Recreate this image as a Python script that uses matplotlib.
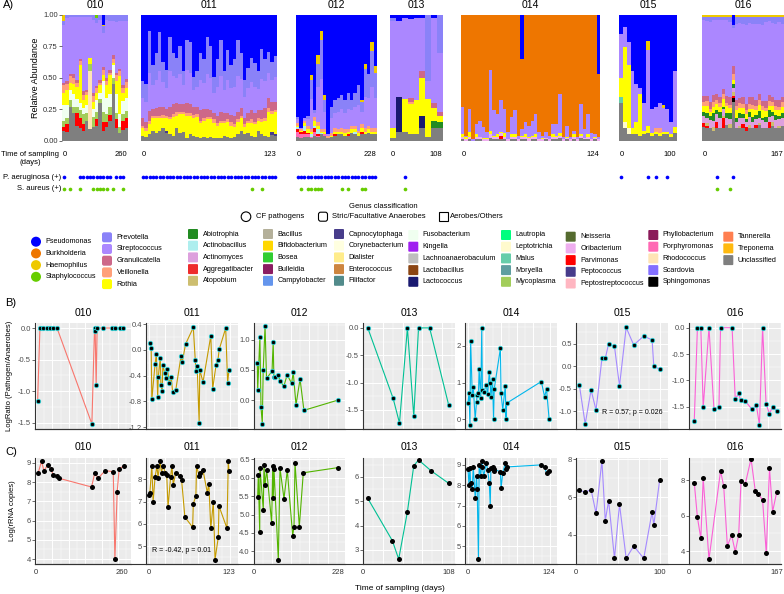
import numpy as np
import matplotlib
matplotlib.use('Agg')
import matplotlib.pyplot as plt
from matplotlib.patches import Circle, FancyBboxPatch, Rectangle
from matplotlib.ticker import MultipleLocator, AutoMinorLocator, FormatStrFormatter

plt.rcParams['font.family'] = ['Liberation Sans', 'DejaVu Sans']

W, H = 784, 594

patients = ['010', '011', '012', '013', '014', '015', '016']
end_day = [260, 123, 228, 108, 124, 100, 167]
line_colors = ['#F8766D', '#C49A00', '#53B400', '#00C094', '#00B6EB', '#A58AFF', '#FB61D7']

# genus classification and colours (legend order)
pathogens = ['Pseudomonas', 'Burkholderia', 'Haemophilus', 'Staphylococcus']
pathogen_colors = ['#0000FF', '#EE7600', '#EEC900', '#66CD00']
anaerobes = ['Prevotella', 'Streptococcus', 'Granulicatella', 'Veillonella', 'Rothia']
anaerobe_colors = ['#8A82F8', '#AB87FF', '#CD6889', '#FFA07A', '#FFFF00']
others = ['Abiotrophia', 'Actinobacillus', 'Actinomyces', 'Aggregatibacter', 'Atopobium',
          'Bacillus', 'Bifidobacterium', 'Bosea', 'Bulleidia', 'Campylobacter',
          'Capnocytophaga', 'Corynebacterium', 'Dialister', 'Enterococcus', 'Filifactor',
          'Fusobacterium', 'Kingella', 'Lachnoanaerobaculum', 'Lactobacillus', 'Lactococcus',
          'Lautropia', 'Leptotrichia', 'Malus', 'Moryella', 'Mycoplasma',
          'Neisseria', 'Oribacterium', 'Parvimonas', 'Peptococcus', 'Peptostreptococcus',
          'Phyllobacterium', 'Porphyromonas', 'Rhodococcus', 'Scardovia', 'Sphingomonas',
          'Tannerella', 'Treponema', 'Unclassified']
other_colors = ['#228B22', '#AEEEEE', '#DDA0DD', '#EE2C2C', '#CDBE70',
                '#B4B09A', '#FFD700', '#32CD32', '#8B1C62', '#6495ED',
                '#483D8B', '#FFFFE0', '#FFEC8B', '#CD853F', '#528B8B',
                '#F0FFF0', '#A020F0', '#BEBEBE', '#8B4513', '#191970',
                '#00FF7F', '#FFFACD', '#66CDAA', '#5F9EA0', '#A2CD5A',
                '#556B2F', '#EEAEEE', '#FF0000', '#473C8B', '#FFB6C1',
                '#8B1A5A', '#FF69B4', '#FFE4B5', '#836FFF', '#000000',
                '#FF7F50', '#FFB90F', '#7F7F7F']

# A) relative abundance per sample
abund_010 = {
    'Unclassified': [0.08, 0.07, 0.27, 0.22, 0.12, 0.1, 0.08, 0.15, 0.1, 0.1, 0.12, 0.3, 0.08, 0.1, 0.15, 0.45, 0.1, 0.06, 0.08, 0.1],
    'Rhodococcus': [0, 0, 0, 0, 0, 0, 0, 0, 0.5, 0, 0, 0, 0, 0, 0, 0, 0, 0, 0, 0],
    'Parvimonas': [0.03, 0.06, 0, 0, 0.1, 0.08, 0.05, 0, 0, 0, 0.05, 0, 0.07, 0.04, 0.05, 0, 0.07, 0, 0.07, 0.08],
    'Mycoplasma': [0.05, 0.05, 0.05, 0.05, 0.05, 0.06, 0.08, 0.06, 0.06, 0.08, 0.06, 0.03, 0.08, 0.06, 0.06, 0.05, 0.05, 0.05, 0.06, 0.05],
    'Fusobacterium': [0.12, 0.1, 0.08, 0.1, 0.06, 0.06, 0.05, 0.06, 0, 0.06, 0.1, 0.05, 0.25, 0.12, 0.1, 0.1, 0.15, 0.1, 0.1, 0.1],
    'Rothia': [0.1, 0.12, 0.06, 0.08, 0.1, 0.3, 0.06, 0.08, 0.05, 0.05, 0.05, 0.06, 0.05, 0.1, 0.15, 0.02, 0.1, 0.3, 0.06, 0.08],
    'Veillonella': [0.06, 0.05, 0.05, 0.05, 0.03, 0.03, 0.04, 0.02, 0, 0.05, 0.04, 0.02, 0.04, 0.03, 0.02, 0.03, 0.05, 0.04, 0.04, 0.05],
    'Granulicatella': [0.02, 0.02, 0.02, 0.03, 0.02, 0.02, 0.03, 0.02, 0, 0.02, 0.02, 0.02, 0.02, 0.02, 0.02, 0.03, 0.02, 0.02, 0.02, 0.02],
    'Streptococcus': [0.46, 0.5, 0.45, 0.45, 0.5, 0.33, 0.58, 0.55, 0.35, 0.55, 0.5, 0.48, 0.27, 0.44, 0.38, 0.27, 0.4, 0.38, 0.5, 0.45],
    'Prevotella': [0.03, 0.03, 0.02, 0.02, 0.02, 0.02, 0.02, 0.02, 0.02, 0.04, 0.04, 0.04, 0.06, 0.04, 0.05, 0.05, 0.06, 0.05, 0.05, 0.05],
    'Staphylococcus': [0, 0, 0, 0, 0, 0, 0, 0, 0, 0, 0.03, 0, 0, 0, 0, 0, 0, 0, 0, 0],
    'Haemophilus': [0.05, 0, 0, 0, 0, 0, 0, 0, 0, 0, 0, 0, 0.01, 0, 0, 0, 0, 0, 0, 0],
    'Pseudomonas': [0, 0, 0, 0, 0, 0, 0, 0, 0, 0, 0, 0, 0.08, 0, 0, 0, 0, 0, 0, 0],
}
abund_011 = {
    'Unclassified': [0.04, 0.03, 0.05, 0.08, 0.06, 0.08, 0.1, 0.06, 0.05, 0.04, 0.1, 0.06, 0.07, 0.02, 0.05, 0.04, 0.03, 0.02, 0.03, 0.02,
                     0.03, 0.02, 0.02, 0.02, 0.04, 0.03, 0.02, 0.03, 0.05, 0.08, 0.05, 0.06, 0.04, 0.03, 0.08, 0.05, 0.04, 0.03, 0.05, 0.04],
    'Capnocytophaga': [0, 0, 0, 0, 0, 0, 0, 0.02, 0, 0, 0, 0, 0, 0, 0, 0, 0, 0, 0, 0,
                       0, 0, 0, 0, 0, 0, 0, 0, 0, 0, 0, 0, 0, 0, 0, 0, 0, 0, 0.02, 0.01],
    'Rothia': [0.06, 0.05, 0.08, 0.1, 0.12, 0.1, 0.08, 0.1, 0.12, 0.15, 0.1, 0.15, 0.14, 0.18, 0.15, 0.14, 0.16, 0.12, 0.13, 0.15,
               0.14, 0.12, 0.1, 0.12, 0.1, 0.12, 0.1, 0.08, 0.1, 0.1, 0.06, 0.08, 0.1, 0.1, 0.08, 0.1, 0.12, 0.2, 0.15, 0.18],
    'Veillonella': [0.02, 0.02, 0.03, 0.02, 0.02, 0.02, 0.03, 0.02, 0.02, 0.02, 0.03, 0.02, 0.02, 0.02, 0.02, 0.03, 0.02, 0.02, 0.02, 0.02,
                    0.02, 0.03, 0.02, 0.02, 0.02, 0.02, 0.03, 0.02, 0.02, 0.02, 0.02, 0.02, 0.03, 0.02, 0.02, 0.02, 0.02, 0.03, 0.02, 0.02],
    'Granulicatella': [0.06, 0.05, 0.08, 0.05, 0.06, 0.07, 0.06, 0.06, 0.08, 0.08, 0.07, 0.06, 0.06, 0.08, 0.07, 0.06, 0.06, 0.08, 0.07, 0.06,
                       0.05, 0.05, 0.06, 0.07, 0.06, 0.05, 0.06, 0.07, 0.06, 0.06, 0.05, 0.06, 0.08, 0.07, 0.06, 0.07, 0.08, 0.08, 0.07, 0.06],
    'Streptococcus': [0.16, 0.16, 0.3, 0.19, 0.22, 0.28, 0.2, 0.17, 0.28, 0.22, 0.2, 0.24, 0.15, 0.26, 0.25, 0.14, 0.16, 0.24, 0.21, 0.28,
                      0.26, 0.16, 0.23, 0.28, 0.18, 0.26, 0.21, 0.23, 0.28, 0.23, 0.17, 0.2, 0.22, 0.21, 0.17, 0.25, 0.21, 0.2, 0.18, 0.2],
    'Prevotella': [0.13, 0.14, 0.34, 0.16, 0.22, 0.31, 0.16, 0.14, 0.27, 0.19, 0.16, 0.22, 0.11, 0.24, 0.24, 0.1, 0.12, 0.22, 0.19, 0.29,
                   0.25, 0.13, 0.22, 0.29, 0.15, 0.24, 0.19, 0.22, 0.29, 0.21, 0.13, 0.16, 0.19, 0.19, 0.14, 0.24, 0.18, 0.17, 0.15, 0.17],
    'Pseudomonas': [0.53, 0.55, 0.13, 0.4, 0.3, 0.14, 0.38, 0.45, 0.18, 0.3, 0.35, 0.25, 0.45, 0.2, 0.22, 0.5, 0.45, 0.3, 0.35, 0.18,
                    0.25, 0.5, 0.35, 0.2, 0.45, 0.28, 0.4, 0.35, 0.2, 0.3, 0.52, 0.42, 0.35, 0.38, 0.45, 0.27, 0.35, 0.3, 0.38, 0.33],
}
abund_012 = {
    'Unclassified': [0.03, 0.02, 0.03, 0.03, 0.02, 0.04, 0.03, 0.05, 0.04, 0.02, 0.03, 0.04, 0.05, 0.05, 0.04, 0.04, 0.06, 0.05, 0.04, 0.05, 0.05, 0.06, 0.05, 0.05],
    'Porphyromonas': [0.04, 0.03, 0.02, 0.02, 0.01, 0.03, 0.01, 0, 0.01, 0, 0, 0, 0, 0, 0, 0, 0, 0, 0, 0, 0, 0, 0, 0],
    'Parvimonas': [0.02, 0.02, 0.03, 0.01, 0, 0.03, 0.01, 0, 0, 0, 0, 0.01, 0, 0, 0, 0.01, 0, 0, 0, 0.02, 0, 0, 0, 0],
    'Actinobacillus': [0.02, 0, 0.04, 0, 0.02, 0.02, 0.04, 0.01, 0, 0, 0, 0, 0, 0, 0, 0, 0, 0.02, 0, 0, 0, 0, 0, 0],
    'Rothia': [0.01, 0.01, 0.02, 0.03, 0.02, 0.04, 0.03, 0.01, 0.02, 0, 0.01, 0.02, 0.02, 0.02, 0.02, 0.02, 0.03, 0.02, 0.02, 0.03, 0.02, 0.03, 0.02, 0.02],
    'Veillonella': [0.02, 0.01, 0.02, 0.03, 0.02, 0.03, 0.03, 0.02, 0.02, 0.02, 0.02, 0.03, 0.02, 0.03, 0.03, 0.02, 0.03, 0.03, 0.02, 0.03, 0.03, 0.03, 0.03, 0.03],
    'Streptococcus': [0.03, 0.01, 0.02, 0.05, 0.24, 0.03, 0.28, 0.4, 0.14, 0.01, 0.12, 0.12, 0.14, 0.15, 0.13, 0.16, 0.12, 0.15, 0.2, 0.1, 0.25, 0.22, 0.33, 0.24],
    'Prevotella': [0.02, 0, 0, 0.03, 0.15, 0.02, 0.18, 0.31, 0.09, 0, 0.09, 0.1, 0.11, 0.11, 0.1, 0.13, 0.08, 0.11, 0.16, 0.08, 0.22, 0.19, 0.28, 0.2],
    'Haemophilus': [0, 0, 0, 0, 0.04, 0, 0.07, 0.07, 0.04, 0, 0, 0, 0, 0, 0, 0, 0, 0, 0, 0.01, 0.04, 0, 0.07, 0.05],
    'Pseudomonas': [0.81, 0.9, 0.82, 0.8, 0.48, 0.76, 0.32, 0.13, 0.64, 0.95, 0.73, 0.68, 0.66, 0.64, 0.68, 0.62, 0.68, 0.62, 0.56, 0.68, 0.39, 0.47, 0.22, 0.41],
}
abund_013 = {
    'Unclassified': [0.02, 0.07, 0.07, 0.05, 0.05, 0.1, 0.03, 0.1, 0.1],
    'Lactococcus': [0, 0.28, 0, 0, 0, 0.1, 0, 0, 0],
    'Abiotrophia': [0, 0, 0, 0, 0, 0, 0, 0.06, 0.05],
    'Rothia': [0.08, 0, 0.26, 0.23, 0.27, 0.3, 0.3, 0.1, 0.05],
    'Veillonella': [0, 0, 0, 0.02, 0, 0, 0, 0, 0],
    'Granulicatella': [0, 0, 0, 0.03, 0, 0.05, 0, 0.04, 0.03],
    'Streptococcus': [0.85, 0.6, 0.64, 0.61, 0.65, 0.42, 0.14, 0.67, 0.47],
    'Prevotella': [0.02, 0, 0, 0, 0, 0, 0.53, 0, 0.3],
    'Pseudomonas': [0.03, 0.05, 0.03, 0.03, 0.03, 0.03, 0, 0.03, 0],
}
abund_014 = {
    'Unclassified': [0.01, 0, 0.01, 0, 0.01, 0.01, 0, 0, 0.02, 0.01, 0.01, 0.01, 0.01, 0, 0.01, 0.01, 0, 0.01, 0.01, 0,
                     0.01, 0.01, 0, 0, 0.01, 0, 0.01, 0.01, 0.02, 0, 0.01, 0, 0.01, 0, 0.02, 0.01, 0.01, 0, 0.01, 0],
    'Parvimonas': [0, 0, 0, 0, 0, 0, 0, 0, 0, 0, 0, 0.03, 0, 0, 0, 0, 0, 0, 0, 0,
                   0, 0, 0, 0, 0, 0, 0, 0, 0, 0, 0, 0, 0, 0, 0, 0, 0, 0, 0, 0],
    'Oribacterium': [0.02, 0.01, 0.02, 0, 0.02, 0.02, 0.01, 0.01, 0.03, 0.02, 0.02, 0.02, 0.02, 0.01, 0.02, 0.02, 0.01, 0.02, 0.02, 0.02,
                     0.02, 0.02, 0.01, 0.01, 0.01, 0.01, 0.02, 0.02, 0.02, 0.01, 0.01, 0.01, 0.02, 0.01, 0.02, 0.01, 0.02, 0.01, 0.01, 0.01],
    'Rothia': [0.02, 0.02, 0.04, 0, 0.02, 0, 0.01, 0.01, 0.03, 0.01, 0.02, 0.01, 0.03, 0, 0.02, 0.02, 0, 0.01, 0.02, 0.01,
               0.01, 0.02, 0, 0.01, 0, 0, 0.02, 0.01, 0.02, 0, 0.01, 0, 0.02, 0, 0.01, 0, 0.02, 0, 0.01, 0],
    'Streptococcus': [0.22, 0.01, 0.18, 0.01, 0.08, 0.13, 0.09, 0.05, 0.48, 0.2, 0.16, 0.25, 0.19, 0.06, 0.14, 0.19, 0.03, 0.05, 0.1, 0.09,
                      0.12, 0.16, 0.06, 0.02, 0.05, 0.03, 0.08, 0.09, 0.31, 0.02, 0.09, 0.02, 0.03, 0.02, 0.24, 0.07, 0.16, 0.05, 0.02, 0.02],
    'Burkholderia': [0.73, 0.96, 0.75, 0.99, 0.87, 0.84, 0.89, 0.93, 0.44, 0.76, 0.79, 0.68, 0.75, 0.93, 0.81, 0.76, 0.96, 0.56, 0.85, 0.88,
                     0.84, 0.79, 0.93, 0.96, 0.93, 0.96, 0.87, 0.87, 0.63, 0.97, 0.88, 0.97, 0.92, 0.97, 0.71, 0.91, 0.79, 0.94, 0.95, 0.5],
    'Pseudomonas': [0, 0, 0, 0, 0, 0, 0, 0, 0, 0, 0, 0, 0, 0, 0, 0, 0, 0.35, 0, 0,
                    0, 0, 0, 0, 0, 0, 0, 0, 0, 0, 0, 0, 0, 0, 0, 0, 0, 0, 0, 0.47],
}
abund_015 = {
    'Unclassified': [0.3, 0.1, 0.05, 0.05, 0.05, 0.04, 0.05, 0.06, 0.04, 0.05, 0.04, 0.05, 0.05, 0.03, 0.06],
    'Malus': [0.05, 0, 0, 0, 0, 0, 0, 0, 0, 0, 0, 0, 0, 0, 0],
    'Leptotrichia': [0, 0.05, 0.05, 0, 0, 0, 0, 0, 0, 0, 0, 0, 0, 0, 0],
    'Rothia': [0.15, 0.59, 0.5, 0.05, 0.1, 0.33, 0.03, 0.05, 0.02, 0.02, 0.02, 0.02, 0.02, 0.02, 0.05],
    'Veillonella': [0, 0, 0, 0, 0, 0, 0, 0, 0, 0.03, 0.04, 0, 0, 0, 0],
    'Streptococcus': [0.35, 0.16, 0.18, 0.45, 0.3, 0.05, 0.22, 0.58, 0.19, 0.17, 0.2, 0.19, 0.18, 0.1, 0.44],
    'Haemophilus': [0, 0, 0, 0, 0, 0, 0, 0.07, 0, 0, 0, 0.02, 0, 0, 0],
    'Pseudomonas': [0.15, 0.1, 0.22, 0.45, 0.55, 0.58, 0.7, 0.2, 0.75, 0.73, 0.7, 0.72, 0.75, 0.85, 0.45],
}
abund_016 = {
    'Unclassified': [0.1, 0.1, 0.1, 0.08, 0.1, 0.1, 0.1, 0.12, 0.1, 0.3, 0.1, 0.1, 0.1, 0.08, 0.1, 0.1, 0.1, 0.12, 0.1, 0.1, 0.1, 0.12, 0.1, 0.1, 0.12],
    'Sphingomonas': [0, 0, 0, 0, 0, 0, 0, 0, 0, 0.03, 0, 0, 0, 0, 0, 0, 0, 0, 0, 0, 0, 0, 0, 0, 0],
    'Parvimonas': [0.03, 0.02, 0, 0, 0.05, 0, 0.08, 0, 0, 0.02, 0, 0, 0.03, 0.03, 0, 0, 0.02, 0, 0, 0, 0.05, 0, 0, 0, 0],
    'Atopobium': [0, 0.02, 0, 0.03, 0, 0, 0.02, 0, 0.03, 0.03, 0, 0.02, 0, 0, 0.03, 0, 0, 0.02, 0, 0, 0, 0.03, 0, 0.02, 0],
    'Actinomyces': [0.05, 0.04, 0.06, 0.05, 0.06, 0.08, 0.05, 0.06, 0.04, 0.03, 0.05, 0.06, 0.05, 0.04, 0.06, 0.05, 0.05, 0.04, 0.06, 0.05, 0.04, 0.05, 0.06, 0.05, 0.06],
    'Abiotrophia': [0.03, 0.04, 0.03, 0.06, 0.03, 0.04, 0.02, 0.04, 0.05, 0.03, 0.03, 0.04, 0.03, 0.02, 0.04, 0.04, 0.03, 0.05, 0.02, 0.04, 0.05, 0.03, 0.04, 0.03, 0.04],
    'Rothia': [0.04, 0.06, 0.03, 0.05, 0.05, 0.04, 0.06, 0.05, 0.04, 0.03, 0.06, 0.04, 0.05, 0.04, 0.03, 0.06, 0.04, 0.05, 0.06, 0.04, 0.03, 0.05, 0.04, 0.04, 0.05],
    'Veillonella': [0.03, 0.04, 0.03, 0.04, 0.03, 0.03, 0.04, 0.03, 0.03, 0.05, 0.03, 0.04, 0.03, 0.03, 0.04, 0.03, 0.03, 0.04, 0.03, 0.03, 0.04, 0.03, 0.03, 0.03, 0.04],
    'Granulicatella': [0.05, 0.04, 0.05, 0.06, 0.05, 0.05, 0.04, 0.05, 0.06, 0.06, 0.05, 0.04, 0.06, 0.05, 0.05, 0.06, 0.05, 0.05, 0.04, 0.05, 0.05, 0.04, 0.05, 0.05, 0.04],
    'Streptococcus': [0.55, 0.6, 0.62, 0.6, 0.58, 0.6, 0.55, 0.6, 0.6, 0.3, 0.6, 0.6, 0.58, 0.62, 0.6, 0.58, 0.6, 0.55, 0.6, 0.62, 0.58, 0.6, 0.6, 0.62, 0.58],
    'Prevotella': [0.02, 0.03, 0.04, 0.02, 0.02, 0.02, 0.02, 0.02, 0.04, 0.02, 0.05, 0.05, 0.05, 0.06, 0.05, 0.05, 0.05, 0.05, 0.06, 0.04, 0.03, 0.05, 0.05, 0.04, 0.05],
    'Haemophilus': [0.02, 0.02, 0.02, 0.02, 0.02, 0.02, 0.02, 0.02, 0.02, 0, 0.02, 0.02, 0.02, 0.02, 0.02, 0.02, 0.02, 0.02, 0.02, 0.02, 0.02, 0.02, 0.02, 0.02, 0.02],
    'Pseudomonas': [0, 0, 0, 0, 0, 0, 0, 0, 0, 0.08, 0, 0, 0, 0, 0, 0, 0, 0, 0, 0, 0, 0, 0, 0, 0],
}
abundances = [abund_010, abund_011, abund_012, abund_013, abund_014, abund_015, abund_016]

# culture positive samples (sample index)
pa_pos = [[0, 5, 6, 7, 8, 9, 10, 11, 12, 13, 14, 16, 17, 18], list(range(40)), list(range(24)),
          [2], [], [0, 7, 9, 12], [4, 9]]
sa_pos = [[0, 2, 5, 9, 10, 11, 12, 13, 15, 18], [32, 35], [1, 3, 4, 5, 6, 7, 13, 15, 19, 20],
          [2], [], [], [4, 8]]

# B) log ratio pathogen / anaerobes
b_days_010 = [5, 12, 21, 33, 43, 52, 64, 170, 178, 180, 183, 186, 204, 231, 240, 255, 265]
b_vals_010 = [-1.15, 0, 0, 0, 0, 0, 0, -1.52, 0, -0.05, -0.9, 0, 0, 0, 0, 0, 0]
b_days_011 = [1, 3, 4, 9, 11, 13, 14, 17, 18, 20, 21, 24, 26, 28, 31, 34, 36, 41, 49, 51, 56, 68, 71, 72,
              74, 77, 78, 83, 95, 98, 103, 106, 108, 118, 121, 123]
b_vals_011 = [0.11, 0.03, -0.77, -0.22, -0.06, -0.73, -0.42, -0.12, -0.55, -0.64, -0.24, -0.36, -0.44, -0.3,
              -0.52, -0.42, -0.65, -0.62, -0.1, -0.19, 0.09, 0.35, -0.15, -0.33, -0.25, -1.14, -0.31, -0.5,
              0.22, -0.6, -0.24, -0.16, 0.01, 0.34, -0.51, -0.31]
b_days_012 = [9, 10, 16, 19, 22.5, 25, 30, 34, 49, 52, 54, 57, 66, 70, 81, 90, 102, 106.5, 114, 125, 135.5, 228]
b_vals_012 = [0.62, 0.16, 1.05, -0.12, -0.39, 0.5, 1.23, 0.36, 0.48, 0.97, 0.38, 0.38, 0.42, 0.32, 0.23, 0.42,
              0.28, 0.46, -0.08, 0.35, -0.17, 0.0]
b_days_013 = [6, 38, 46, 56, 64, 70, 84, 108]
b_vals_013 = [0, -1.29, -1.74, 0, -1.62, 0, 0, -1.41]
b_days_014 = [0, 1.5, 3, 4, 6.5, 8, 11, 13, 14, 16, 17, 19.5, 21, 22, 24, 28, 30, 32.5, 34, 35, 37.5, 39, 40,
              49.5, 50.5, 53, 57, 58, 59, 112, 117, 120, 124]
b_vals_014 = [0.45, 0.72, -0.16, 2.14, 0.66, 0.89, 0, 0.48, 0.66, 0.71, 1.37, 0.57, 2.48, 0.8, 0.75, 0.93, 0.68,
              1.28, 1.0, 0.6, 1.09, 0, 0.82, 1.93, 0.71, 0.25, 0.91, 0, 0.44, 1.03, 0.62, 0.82, 0]
b_days_015 = [4, 11, 18, 24, 31, 35, 39, 46, 52, 60, 69, 81, 91, 93, 100]
b_vals_015 = [-0.42, -1.29, -0.53, -0.98, 0.17, 0.17, 0.5, 0.44, -0.44, 0.86, 0.47, 0.67, 0.58, 0.0, -0.07]
b_days_016 = [10, 16, 22.5, 27, 38, 47.5, 57, 60, 82, 88, 94.5, 98, 107, 120, 128, 134, 140, 146.6, 153, 159, 167]
b_vals_016 = [-1.77, 0, 0, -1.51, 0, -1.55, -1.5, 0, 0, -1.36, -1.24, -1.37, -1.39, -1.55, -1.46, -1.84, 0,
              -1.44, -1.63, -1.5, -1.58]

# C) log rRNA copies
c_days_010 = [7, 17, 24, 36, 45, 53, 63, 71, 169, 179, 189, 210, 235, 240, 247, 253, 268]
c_vals_010 = [8.5, 9.1, 8.6, 8.9, 8.7, 8.35, 8.3, 8.2, 7.75, 8.5, 8.2, 8.6, 8.55, 4.0, 7.5, 8.7, 8.85]
c_days_011 = [0, 1, 4, 6, 9, 12, 13.5, 16.6, 19, 21, 25, 27, 29, 33, 35, 37, 41, 47.5, 50, 55, 67, 68, 72, 73,
              77, 78, 83, 89.6, 92, 95, 99, 101.5, 106.6, 107.6, 120, 122, 123]
c_vals_011 = [7.3, 7.4, 8.6, 7.0, 8.1, 8.6, 8.05, 8.8, 8.3, 8.6, 8.3, 8.2, 6.75, 8.1, 8.6, 7.75, 8.3, 8.15, 7.95,
              6.3, 5.85, 6.9, 7.25, 8.6, 8.15, 8.3, 8.4, 7.4, 7.8, 5.8, 7.0, 4.4, 5.4, 6.8, 5.8, 8.8, 8.35]
c_days_012 = [10, 11.7, 15.5, 16.3, 25.2, 27.1, 29.9, 34.5, 48, 50.8, 52.4, 54.3, 66, 70.6, 81.4, 90.4, 105,
              108.6, 111.3, 123, 133.8, 228]
c_vals_012 = [5.48, 6.06, 4.52, 6.25, 5.13, 6.34, 5.8, 6.2, 4.76, 6.3, 5.45, 6.22, 3.77, 6.25, 5.43, 6.2, 4.43,
              4.67, 6.4, 4.67, 6.13, 6.27]
c_days_013 = [6, 37, 45, 56, 64, 70, 86, 108]
c_vals_013 = [5.12, 3.38, 2.62, 4.57, 6.46, 6.7, 6.25, 5.74]
c_days_014 = b_days_014
c_vals_014 = [8.8, 8.0, 8.85, 8.1, 7.8, 8.9, 7.37, 8.46, 7.8, 4.36, 9.0, 8.45, 9.2, 8.9, 8.45, 9.1, 8.75, 8.1,
              7.0, 8.85, 8.9, 8.7, 8.8, 8.65, 7.85, 8.6, 9.1, 8.8, 8.9, 9.0, 8.9, 8.6, 8.7]
c_days_015 = b_days_015
c_vals_015 = [6.37, 6.26, 6.4, 5.14, 7.93, 4.75, 5.81, 2.76, 5.62, 2.76, 3.41, 2.76, 5.23, 4.52, 6.9]
c_days_016 = [10, 16, 22.5, 27, 38, 60, 66, 73, 81, 88, 94.5, 99, 107, 118, 126, 132, 140, 147, 153, 159, 167]
c_vals_016 = [7.85, 5.9, 4.71, 8.1, 3.53, 8.52, 7.66, 4.28, 4.9, 3.96, 4.9, 7.96, 7.77, 9.2, 7.4, 7.21, 6.87,
              3.87, 8.7, 6.21, 7.34]

b_series = [(b_days_010, b_vals_010), (b_days_011, b_vals_011), (b_days_012, b_vals_012), (b_days_013, b_vals_013),
            (b_days_014, b_vals_014), (b_days_015, b_vals_015), (b_days_016, b_vals_016)]
c_series = [(c_days_010, c_vals_010), (c_days_011, c_vals_011), (c_days_012, c_vals_012), (c_days_013, c_vals_013),
            (c_days_014, c_vals_014), (c_days_015, c_vals_015), (c_days_016, c_vals_016)]

# layout (pixels)
a_x = [(62, 128), (141, 277), (296, 377), (390, 443), (461, 600), (619, 677), (702, 784)]
bc_x = [(35, 131), (146, 238), (254, 345), (363, 455), (465, 557), (576, 668), (689, 781)]
xlims = [(-3, 289), (-5, 137), (0, 247), (0, 116), (-4.6, 136), (0, 110), (0, 175)]
xsteps = [50, 25, 50, 25, 25, 25, 50]
b_ylims = [(-1.6, 0.08), (-1.23, 0.42), (-0.48, 1.28), (-1.85, 0.09), (-0.26, 2.62), (-1.4, 0.96), (-1.92, 0.09)]
b_ticks = [[-1.5, -1, -0.5, 0], [-1.2, -0.8, -0.4, 0, 0.4], [0, 0.5, 1.0], [-1.5, -1, -0.5, 0],
           [0, 1, 2], [-1, -0.5, 0, 0.5], [-1.5, -1, -0.5, 0]]
c_ylims = [(3.74, 9.26), (4.2, 8.95), (3.66, 6.53), (2.42, 6.78), (4.12, 9.34), (2.46, 8.07), (3.27, 9.24)]
c_ticks = [[4, 5, 6, 7, 8, 9], [5, 6, 7, 8], [4, 4.5, 5, 5.5, 6, 6.5], [3, 4, 5, 6], [5, 6, 7, 8, 9],
           [4, 6, 8], [4, 6, 8]]


def rect(l, t, r, b):
    return [l / W, 1 - b / H, (r - l) / W, (b - t) / H]


colors = dict(zip(pathogens + anaerobes + others, pathogen_colors + anaerobe_colors + other_colors))
stack_order = list(reversed(pathogens + anaerobes + others))

fig = plt.figure(figsize=(W / 100, H / 100), dpi=100)
ov = fig.add_axes([0, 0, 1, 1], zorder=10)
ov.set_xlim(0, W)
ov.set_ylim(H, 0)
ov.axis('off')
ov.patch.set_alpha(0)

# ---- panel A: stacked bars
for k, pid in enumerate(patients):
    data = abundances[k]
    n = len(data['Unclassified'])
    x0, x1 = a_x[k]
    ax = fig.add_axes(rect(x0, 14.7, x1, 140.7))
    idx = np.arange(n)
    tot = np.sum([np.array(v, float) for v in data.values()], axis=0)
    bottom = np.zeros(n)
    for g in stack_order:
        if g in data:
            h = np.array(data[g], float) / tot
            ax.bar(idx, h, width=1.0, bottom=bottom, color=colors[g], linewidth=0)
            bottom += h
    ax.set_xlim(-0.5, n - 0.5)
    ax.set_ylim(0, 1)
    for s in ax.spines.values():
        s.set_visible(False)
    ax.set_xticks([])
    if k == 0:
        ax.set_yticks([0, 0.25, 0.5, 0.75, 1.0])
        ax.yaxis.set_major_formatter(FormatStrFormatter('%.2f'))
        ax.tick_params(axis='y', length=2, width=0.5, labelsize=5.5, pad=1, colors='#333333')
        ax.set_ylabel('Relative Abundance', fontsize=6.5, labelpad=2)
    else:
        ax.set_yticks([])
    ov.text((x0 + x1) / 2, 5, pid, ha='center', va='center', fontsize=7.5)
    ov.text(x0 + 1, 155, '0', ha='left', va='center', fontsize=5.5)
    ov.text(x1 - 1, 155, str(end_day[k]), ha='right', va='center', fontsize=5.5)

    # culture results rows
    dx = fig.add_axes(rect(x0, 170, x1, 195))
    dx.set_xlim(-0.5, n - 0.5)
    dx.set_ylim(0, 1)
    dx.axis('off')
    dx.scatter(pa_pos[k], [0.71] * len(pa_pos[k]), s=7, color='#0000FF', linewidths=0)
    dx.scatter(sa_pos[k], [0.25] * len(sa_pos[k]), s=7, color='#66CC00', linewidths=0)

ov.text(3, 5, 'A)', ha='left', va='center', fontsize=8)
ov.text(30, 159, 'Time of sampling\n(days)', ha='center', va='center', fontsize=5.5, linespacing=1.2)
ov.text(61, 177.3, 'P. aeruginosa (+)', ha='right', va='center', fontsize=5.5)
ov.text(61, 188.7, 'S. aureus (+)', ha='right', va='center', fontsize=5.5)

# ---- legend
ov.text(383, 206.7, 'Genus classification', ha='center', va='center', fontsize=5.5)
ov.add_patch(Circle((246, 216.7), 4.8, fc='white', ec='black', lw=0.8))
ov.text(256, 216.7, 'CF pathogens', ha='left', va='center', fontsize=5.5)
ov.add_patch(FancyBboxPatch((318.5, 212.2), 9, 9, boxstyle='round,pad=0,rounding_size=2.2',
                            fc='white', ec='black', lw=0.8))
ov.text(332, 216.7, 'Stric/Facultative Anaerobes', ha='left', va='center', fontsize=5.5)
ov.add_patch(Rectangle((438.8, 212.2), 9, 9, fc='white', ec='black', lw=0.8))
ov.text(450, 216.7, 'Aerobes/Others', ha='left', va='center', fontsize=5.5)

for i, g in enumerate(pathogens):
    y = 241.7 + 11.7 * i
    ov.add_patch(Circle((36, y), 5, fc=colors[g], ec='none'))
    ov.text(45.3, y, g, ha='left', va='center', fontsize=5.2)
for i, g in enumerate(anaerobes):
    y = 237.3 + 11.7 * i
    ov.add_patch(FancyBboxPatch((102, y - 5), 10, 10, boxstyle='round,pad=0,rounding_size=2',
                                fc=colors[g], ec='none'))
    ov.text(116.7, y, g, ha='left', va='center', fontsize=5.2)
col_x = [193, 268, 339, 413.3, 506, 570.7, 653.3, 728.3]
col_y0 = [234, 234, 234, 235, 235, 236.7, 235, 236.7]
for i, g in enumerate(others):
    c, r = divmod(i, 5)
    x, y = col_x[c], col_y0[c] + 11.7 * r
    ov.add_patch(FancyBboxPatch((x - 5, y - 5), 10, 10, boxstyle='round,pad=0,rounding_size=1',
                                fc=colors[g], ec='none'))
    ov.text(x + 9.5, y, g, ha='left', va='center', fontsize=5.2)


# ---- panels B and C
def style(ax, k, yl, yt, fmt):
    ax.set_facecolor('#EBEBEB')
    ax.set_xlim(*xlims[k])
    ax.set_ylim(*yl)
    ax.set_yticks(yt)
    ax.yaxis.set_major_formatter(FormatStrFormatter(fmt))
    ax.yaxis.set_minor_locator(AutoMinorLocator(2))
    ax.xaxis.set_major_locator(MultipleLocator(xsteps[k]))
    ax.xaxis.set_minor_locator(AutoMinorLocator(2))
    ax.grid(which='major', color='white', lw=0.7)
    ax.grid(which='minor', color='white', lw=0.35)
    ax.set_axisbelow(True)
    for s in ['top', 'right']:
        ax.spines[s].set_visible(False)
    for s in ['left', 'bottom']:
        ax.spines[s].set_color('#333333')
        ax.spines[s].set_linewidth(0.8)
    ax.tick_params(axis='y', which='major', length=2, width=0.5, colors='#333333',
                   labelsize=5.5, labelcolor='#4D4D4D', pad=1)
    ax.tick_params(axis='y', which='minor', length=0)
    ax.tick_params(axis='x', which='both', length=0, labelbottom=False)


for k, pid in enumerate(patients):
    x0, x1 = bc_x[k]
    # B
    ax = fig.add_axes(rect(x0, 323, x1, 429))
    style(ax, k, b_ylims[k], b_ticks[k], '%d' if pid == '014' else '%.1f')
    d, v = b_series[k]
    ax.plot(d, v, color=line_colors[k], lw=0.8, zorder=2)
    ax.scatter(d, v, s=10, color='black', edgecolors='#2ED3D8', linewidths=0.6, zorder=3)
    ov.text((x0 + x1) / 2, 313, pid, ha='center', va='center', fontsize=7.5)
    # C
    ax = fig.add_axes(rect(x0, 458, x1, 564))
    style(ax, k, c_ylims[k], c_ticks[k], '%.1f' if pid == '012' else '%d')
    d, v = c_series[k]
    ax.plot(d, v, color=line_colors[k], lw=0.8, zorder=2)
    ax.scatter(d, v, s=13, color='black', linewidths=0, zorder=3)
    tr = ax.get_xaxis_transform()
    ax.text(0, -0.05, '0', transform=tr, ha='center', va='top', fontsize=5.5, color='#333333')
    ax.text(end_day[k], -0.05, str(end_day[k]), transform=tr, ha='center', va='top',
            fontsize=5.5, color='#333333')
    ov.text((x0 + x1) / 2, 447, pid, ha='center', va='center', fontsize=7.5)

ov.plot([35, 781], [429, 429], color='#333333', lw=0.8)
ov.plot([35, 781], [564, 564], color='#333333', lw=0.8)

ov.text(5, 303, 'B)', ha='left', va='center', fontsize=8)
ov.text(5, 452, 'C)', ha='left', va='center', fontsize=8)
ov.text(10, 376, 'LogRatio (Pathogen/Anaerobes)', rotation=90, ha='center', va='center', fontsize=5.5)
ov.text(13, 511, 'Log(rRNA copies)', rotation=90, ha='center', va='center', fontsize=5.5)
ov.text(400, 588, 'Time of sampling (days)', ha='center', va='center', fontsize=6)
ov.text(632, 413, 'R = 0.57; p = 0.026', ha='center', va='center', fontsize=5)
ov.text(181.5, 550, 'R = -0.42, p = 0.01', ha='center', va='center', fontsize=5)

fig.savefig('out.png', dpi=100)
